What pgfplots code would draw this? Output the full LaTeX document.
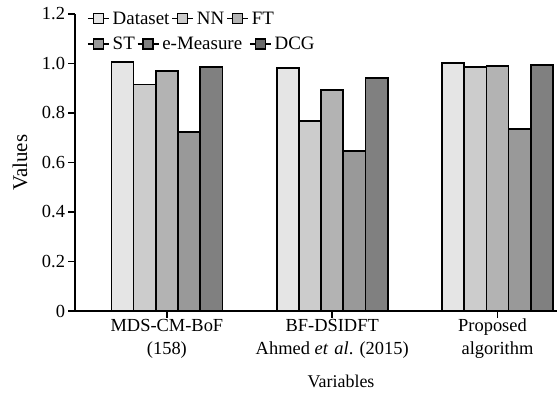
\documentclass[border=0pt]{standalone}
\usepackage{pgfplots}
\pgfplotsset{compat=1.18}
\usepackage{fontspec}
\setmainfont{Liberation Serif}
\definecolor{c1}{HTML}{E5E5E5}
\definecolor{c2}{HTML}{CCCCCC}
\definecolor{c3}{HTML}{B3B3B3}
\definecolor{c4}{HTML}{999999}
\definecolor{c5}{HTML}{808080}
\definecolor{c6}{HTML}{6A6A6A}
\pgfplotsset{
  legmark/.style={black, line width=1.5pt, mark=square*, mark size=5bp, mark options={fill=#1, line width=1.2pt},
    legend image code/.code={\draw[##1, mark=none] (0bp,0bp) -- (21bp,0bp);
      \draw[##1] plot[only marks] coordinates {(10.5bp,0bp)};}},
  mybar/.style={fill=#1, draw=black, line width=1.7pt, forget plot},
}
\begin{document}
\begin{tikzpicture}
\begin{axis}[
  name=ax,
  at={(0,0)}, anchor=south west,
  scale only axis,
  width=482bp, height=297bp,
  xmin=-0.556, xmax=2.36,
  ymin=0, ymax=1.2,
  ytick={0,0.2,0.4,0.6,0.8,1.0,1.2},
  yticklabels={0,0.2,0.4,0.6,0.8,1.0,1.2},
  xtick={0,1,2},
  xticklabels={{MDS-CM-BoF\\(158)},{BF-DSIDFT\\Ahmed \textit{et}\,\,\textit{al}. (2015)},{Proposed\hspace*{10bp}\\algorithm}},
  xticklabel style={align=center, font=\fontsize{18.5}{23}\selectfont, yshift=2bp},
  yticklabel style={font=\fontsize{18.5}{20}\selectfont},
  /pgf/number format/assume math mode=true,
  axis x line=bottom, axis y line=left,
  axis line style={line width=1.5pt, -},
  tick style={line width=1.5pt, black},
  tick align=outside,
  major tick length=6.5bp,
  xlabel={Variables}, ylabel={Values},
  xlabel style={font=\fontsize{18}{19}\selectfont, at={(axis description cs:0.552,-0.236)}, anchor=center},
  ylabel style={font=\fontsize{21}{23}\selectfont, at={(axis description cs:-0.114,0.5)}, anchor=center, rotate=0},
  ybar=0pt, bar width=22.2bp,
  clip=false,
  legend columns=3,
  legend style={draw=none, fill=none, at={(0.025,1.015)}, anchor=north west,
    font=\fontsize{19}{21}\selectfont, column sep=0bp, inner sep=0pt,
    /tikz/every odd column/.append style={column sep=1bp}},
  legend cell align=left,
]
\addplot[mybar=c1, bar shift=-44.4bp] coordinates {(0,1.005) (1,0.982) (2,1.003)};
\addplot[mybar=c2, bar shift=-22.2bp] coordinates {(0,0.915) (1,0.769) (2,0.987)};
\addplot[mybar=c3, bar shift=0bp] coordinates {(0,0.971) (1,0.892) (2,0.990)};
\addplot[mybar=c4, bar shift=22.2bp] coordinates {(0,0.723) (1,0.646) (2,0.734)};
\addplot[mybar=c5, bar shift=44.4bp] coordinates {(0,0.985) (1,0.941) (2,0.993)};
\addlegendimage{legmark=c1}
\addlegendentry{Dataset}
\addlegendimage{legmark=c2}
\addlegendentry{NN}
\addlegendimage{legmark=c3}
\addlegendentry{FT}
\end{axis}
\begin{axis}[
  at={(0,0)}, anchor=south west,
  scale only axis,
  width=482bp, height=297bp,
  xmin=0, xmax=1, ymin=0, ymax=1,
  hide axis,
  legend columns=3,
  legend style={draw=none, fill=none, at={(0.025,0.93)}, anchor=north west,
    font=\fontsize{19}{21}\selectfont, column sep=0bp, inner sep=0pt,
    /tikz/every odd column/.append style={column sep=1bp}},
  legend cell align=left,
]
\addlegendimage{legmark=c4}
\addlegendentry{ST}
\addlegendimage{legmark=c5}
\addlegendentry{e-Measure\hspace*{5bp}}
\addlegendimage{legmark=c6}
\addlegendentry{DCG}
\end{axis}
\pgfresetboundingbox
\path[use as bounding box] (-75bp,-82bp) rectangle (482bp,311bp);
\end{tikzpicture}
\end{document}
